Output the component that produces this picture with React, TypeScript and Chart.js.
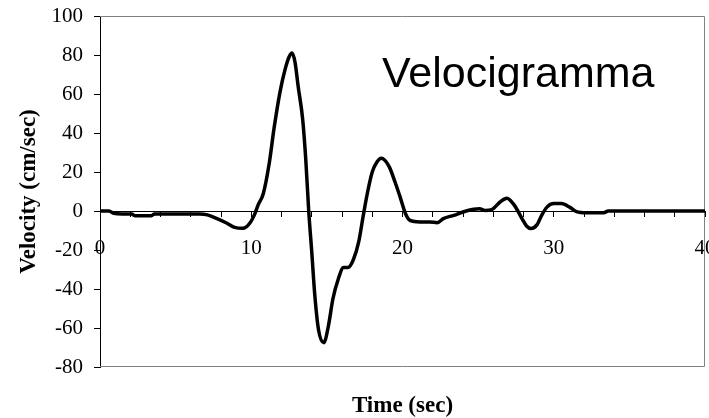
import React, { useEffect, useRef } from "react";
import { Chart, registerables } from "chart.js";

Chart.register(...registerables);

const times: number[] = [
  0, 0.6, 0.9, 1.5, 2.1, 2.3, 3.4, 3.6, 6.6, 7.1, 7.7, 8.4, 8.9, 9.45, 9.9,
  10.25, 10.45, 10.8, 11.2, 11.5, 11.9, 12.25, 12.5, 12.7, 12.9, 13.1, 13.4,
  13.6, 13.8, 14.0, 14.2, 14.45, 14.8, 15.1, 15.4, 15.75, 16.1, 16.4, 16.75,
  17.1, 17.4, 17.7, 18.0, 18.3, 18.6, 19.1, 19.5, 19.85, 20.2, 20.5, 21.15,
  21.8, 22.3, 22.7, 23.4, 24.0, 24.7, 25.1, 25.45, 25.9, 26.45, 26.9, 27.4,
  27.9, 28.2, 28.5, 28.9, 29.2, 29.55, 30.0, 30.5, 31.05, 31.5, 32.2, 33.3,
  33.6, 40,
];

const velocities: number[] = [
  0, 0, -1.2, -1.5, -1.6, -2.4, -2.4, -1.5, -1.5, -2, -3.8, -6.3, -8.4, -8.9,
  -6.3, -1.2, 3, 9, 25, 42, 61, 73, 79, 81, 76, 64, 47, 27, 0, -21, -43, -61,
  -67.5, -59, -45, -35, -29, -29, -25, -16, -2.6, 10, 20, 25, 27, 23, 15, 7,
  -1.4, -4.8, -5.6, -5.6, -6, -3.9, -2.2, -0.5, 0.9, 1.2, 0.3, 0.7, 4.6, 6.5,
  2.9, -3.9, -7.7, -9, -7, -2.2, 2, 3.8, 3.8, 2, -0.3, -0.9, -0.9, 0, 0,
];

const xLabelValues: number[] = [0, 10, 20, 30, 40];
const chartTitle = "Velocigramma";
const xTitle = "Time (sec)";
const yTitle = "Velocity (cm/sec)";

const borderPlugin = {
  id: "plotBorder",
  beforeDatasetsDraw(chart: any) {
    const { ctx, chartArea } = chart;
    const { left, right, top, bottom } = chartArea;
    ctx.save();
    ctx.strokeStyle = "#808080";
    ctx.lineWidth = 1;
    ctx.beginPath();
    ctx.moveTo(left, Math.round(top) + 0.5);
    ctx.lineTo(Math.round(right) - 0.5, Math.round(top) + 0.5);
    ctx.lineTo(Math.round(right) - 0.5, Math.round(bottom) - 0.5);
    ctx.lineTo(left, Math.round(bottom) - 0.5);
    ctx.stroke();
    ctx.restore();
  },
};

const labelPlugin = {
  id: "innerLabel",
  afterDraw(chart: any) {
    const { ctx, chartArea } = chart;
    ctx.save();
    ctx.fillStyle = "#000";
    ctx.font = '43px "Liberation Sans", Arial, sans-serif';
    ctx.textAlign = "left";
    ctx.textBaseline = "alphabetic";
    ctx.fillText(chartTitle, chartArea.left + 282, chartArea.top + 71);
    ctx.restore();
  },
};

export default function App() {
  const ref = useRef<HTMLCanvasElement>(null);

  useEffect(() => {
    document.body.style.margin = "0";
    if (!ref.current) return;
    const chart = new Chart(ref.current, {
      type: "line",
      data: {
        datasets: [
          {
            data: times.map((t, i) => ({ x: t, y: velocities[i] })),
            borderColor: "#000",
            borderWidth: 3.5,
            pointRadius: 0,
            cubicInterpolationMode: "monotone",
            fill: false,
          },
        ],
      },
      options: {
        responsive: false,
        animation: false,
        layout: { padding: { top: 16, right: 4, left: 0, bottom: 0 } },
        plugins: {
          legend: { display: false },
          tooltip: { enabled: false },
          title: {
            display: true,
            text: xTitle,
            position: "bottom",
            fullSize: false,
            color: "#000",
            font: { family: '"Liberation Serif", "Times New Roman", serif', size: 23, weight: "bold", lineHeight: 1 },
            padding: { top: 28, bottom: 0 },
          },
        },
        scales: {
          x: {
            type: "linear",
            position: { y: 0 } as any,
            min: 0,
            max: 40,
            border: { color: "#000", width: 1 },
            grid: { drawOnChartArea: false, drawTicks: true, tickLength: 5, color: "#000" },
            ticks: {
              stepSize: 2,
              autoSkip: false,
              maxRotation: 0,
              padding: 20,
              color: "#000",
              font: { family: '"Liberation Serif", "Times New Roman", serif', size: 21 },
              callback: (v: any) => (xLabelValues.includes(Number(v)) ? String(v) : ""),
            },
            afterFit: (scale: any) => {
              scale.paddingLeft = 0;
              scale.paddingRight = 0;
              scale.paddingTop = 0;
              scale.paddingBottom = 0;
            },
          },
          y: {
            type: "linear",
            position: "left",
            min: -80,
            max: 100,
            border: { color: "#000", width: 1 },
            grid: { drawOnChartArea: false, drawTicks: true, tickLength: 6, color: "#000" },
            ticks: {
              stepSize: 20,
              padding: 11,
              color: "#000",
              font: { family: '"Liberation Serif", "Times New Roman", serif', size: 21 },
            },
            title: {
              display: true,
              text: yTitle,
              color: "#000",
              font: { family: '"Liberation Serif", "Times New Roman", serif', size: 23, weight: "bold", lineHeight: 1 },
              padding: { top: 18, bottom: 0 },
            },
            afterFit: (scale: any) => {
              scale.width = 100;
              scale.paddingTop = 0;
              scale.paddingBottom = 0;
            },
          },
        },
      },
      plugins: [borderPlugin, labelPlugin],
    } as any);
    return () => chart.destroy();
  }, []);

  return <canvas ref={ref} width={709} height={418} style={{ display: "block" }} />;
}
